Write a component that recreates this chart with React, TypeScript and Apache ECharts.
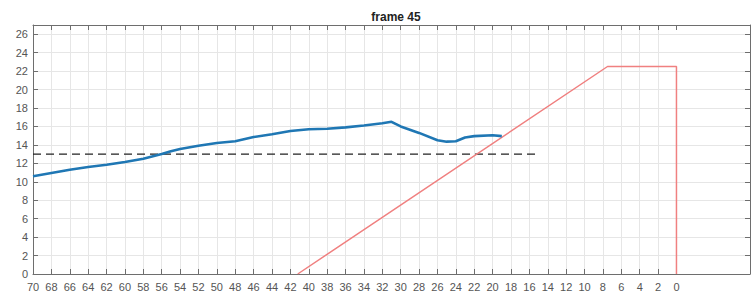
import React, { useEffect, useRef } from "react";
import * as echarts from "echarts";

const blueX = [70, 68, 66, 64, 62, 60, 58, 56, 55, 54, 52, 50, 48, 46, 44, 42, 40, 38, 36, 34, 32, 31, 30, 28, 26, 25, 24, 23, 22, 20, 19];
const blueY = [10.6, 10.95, 11.3, 11.6, 11.85, 12.15, 12.5, 13.0, 13.3, 13.55, 13.9, 14.2, 14.4, 14.85, 15.15, 15.5, 15.7, 15.75, 15.9, 16.1, 16.35, 16.5, 16.0, 15.3, 14.5, 14.35, 14.4, 14.8, 14.95, 15.05, 14.95];
const dashX = [70, 15];
const dashY = [13, 13];
const redX = [41.2, 7.5, 0, 0];
const redY = [0, 22.5, 22.5, 0];
const xTicks = [0, 2, 4, 6, 8, 10, 12, 14, 16, 18, 20, 22, 24, 26, 28, 30, 32, 34, 36, 38, 40, 42, 44, 46, 48, 50, 52, 54, 56, 58, 60, 62, 64, 66, 68, 70];
const yTicks = [0, 2, 4, 6, 8, 10, 12, 14, 16, 18, 20, 22, 24, 26];
const title = "frame 45";

const FONT = "Liberation Sans, Arial, sans-serif";
const AXIS = "#6e6e6e";
const GRIDC = "#e6e6e6";

export default function App() {
  const ref = useRef<HTMLDivElement>(null);
  useEffect(() => {
    if (!ref.current) return;
    const chart = echarts.init(ref.current, null, { renderer: "svg" });
    const zip = (xs: number[], ys: number[]) => xs.map((x, i) => [x, ys[i]]);
    const xCommon = {
      type: "value",
      inverse: true,
      min: -8,
      max: 70,
      interval: 2,
      axisLine: { show: true, onZero: false, lineStyle: { color: AXIS, width: 1 } },
      axisTick: { show: true, inside: true, length: 5, customValues: xTicks, lineStyle: { color: AXIS } },
      splitLine: { show: false },
    };
    const yCommon = {
      type: "value",
      min: 0,
      max: 27,
      interval: 2,
      axisLine: { show: true, onZero: false, lineStyle: { color: AXIS, width: 1 } },
      axisTick: { show: true, inside: true, length: 5, customValues: yTicks, lineStyle: { color: AXIS } },
    };
    chart.setOption({
      animation: false,
      title: {
        text: title,
        left: 391,
        textAlign: "center",
        top: 6,
        textStyle: { fontFamily: FONT, fontSize: 12, fontWeight: "bold", color: "#222" },
      },
      grid: { left: 33, right: 3, top: 25, bottom: 28, containLabel: false },
      xAxis: [
        {
          ...xCommon,
          position: "bottom",
          axisLabel: {
            show: true,
            customValues: xTicks,
            color: "#555",
            fontFamily: FONT,
            fontSize: 11,
            margin: 7,
          },
        },
        {
          ...xCommon,
          position: "top",
          axisLabel: { show: false },
        },
      ],
      yAxis: [
        {
          ...yCommon,
          position: "left",
          axisLabel: {
            show: true,
            customValues: yTicks,
            color: "#555",
            fontFamily: FONT,
            fontSize: 11,
            margin: 5,
          },
          splitLine: { show: true, customValues: yTicks, lineStyle: { color: GRIDC, width: 1 } },
        },
        {
          ...yCommon,
          position: "right",
          axisLabel: { show: false },
          splitLine: { show: false },
        },
      ],
      series: [
        {
          type: "line",
          data: [],
          silent: true,
          z: 0,
          markLine: {
            silent: true,
            z: 0,
            symbol: "none",
            label: { show: false },
            lineStyle: { color: GRIDC, type: "solid", width: 1 },
            data: xTicks.filter((v) => v !== 0).map((v) => ({ xAxis: v })),
          },
        },
        {
          type: "line",
          data: zip(dashX, dashY),
          symbol: "none",
          lineStyle: { color: "#222", width: 1.1, type: [8, 5] },
          z: 2,
        },
        {
          type: "line",
          data: zip(redX, redY),
          symbol: "none",
          lineStyle: { color: "#f08080", width: 1.5 },
          z: 3,
        },
        {
          type: "line",
          data: zip(blueX, blueY),
          symbol: "none",
          lineStyle: { color: "#1f77b4", width: 2.6 },
          z: 4,
        },
      ],
    });
    return () => chart.dispose();
  }, []);
  return <div ref={ref} style={{ width: 753, height: 302, position: "absolute", left: 0, top: 0 }} />;
}
